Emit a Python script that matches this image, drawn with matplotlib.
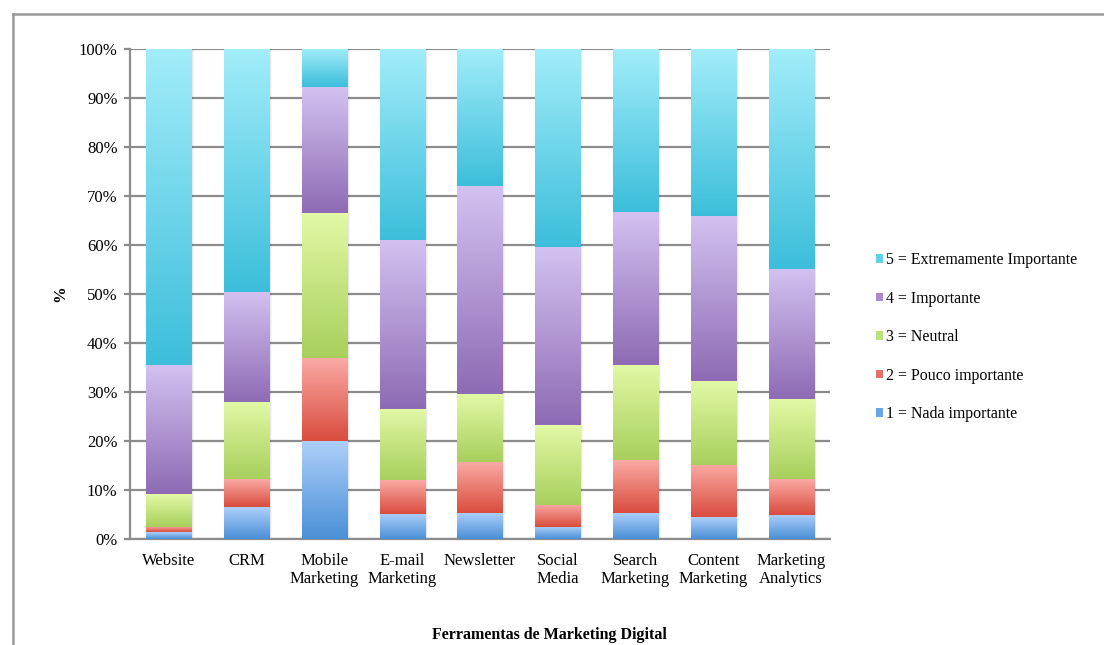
import numpy as np
import matplotlib
matplotlib.use('Agg')
import matplotlib.pyplot as plt
from matplotlib.patches import Patch, Rectangle
from matplotlib.lines import Line2D
from matplotlib.colors import LinearSegmentedColormap

plt.rcParams['font.family'] = ['Liberation Serif', 'DejaVu Serif']

# data (percent of respondents)
categories = ['Website', 'CRM', 'Mobile\nMarketing', 'E-mail\nMarketing', 'Newsletter',
              'Social\nMedia', 'Search\nMarketing', 'Content\nMarketing', 'Marketing\nAnalytics']
nada = [1.4, 6.5, 20.1, 5.2, 5.4, 2.5, 5.4, 4.4, 4.9]
pouco = [1.1, 5.7, 16.8, 6.8, 10.3, 4.5, 10.8, 10.7, 7.3]
neutral = [6.6, 15.8, 29.6, 14.5, 13.8, 16.2, 19.4, 17.1, 16.3]
importante = [26.5, 22.5, 25.7, 34.5, 42.5, 36.3, 31.1, 33.8, 26.7]
extremo = [64.4, 49.5, 7.8, 39.0, 28.0, 40.5, 33.3, 34.0, 44.8]

series = [nada, pouco, neutral, importante, extremo]
labels = ['1 = Nada importante', '2 = Pouco importante', '3 = Neutral',
          '4 = Importante', '5 = Extremamente Importante']
# (top colour, bottom colour) for each gradient
grads = [('#aed0fa', '#4a8fd6'),
         ('#faaaa4', '#d94c3e'),
         ('#e2f9a6', '#a8cf5c'),
         ('#d3c2f1', '#8e6bb4'),
         ('#a2edf9', '#3cbedb')]
legend_cols = ['#6aa6e6', '#e87068', '#bfe07c', '#a98bd0', '#62d0e8']

fig = plt.figure(figsize=(11.04, 6.45), dpi=100)
ax = fig.add_axes([130 / 1104, 1 - 539 / 645, 700 / 1104, 490 / 645])

x = np.arange(len(categories))
width = 0.58
bottom = np.zeros(len(categories))
grad = np.linspace(0, 1, 256).reshape(-1, 1)

for vals, (ctop, cbot) in zip(series, grads):
    cmap = LinearSegmentedColormap.from_list('g', [cbot, ctop])
    bars = ax.bar(x, vals, width, bottom=bottom, color='none', edgecolor='none', zorder=3)
    for b in bars:
        x0, y0 = b.get_x(), b.get_y()
        w, h = b.get_width(), b.get_height()
        # soft shadow on the right side
        for k, a in enumerate([0.10, 0.06, 0.03]):
            ax.add_patch(Rectangle((x0 + w, y0), 0.012 * (k + 1), h,
                                   color='black', alpha=a, lw=0, zorder=2))
        im = ax.imshow(grad, cmap=cmap, origin='lower', aspect='auto',
                       extent=(x0, x0 + w, y0, y0 + h), zorder=3)
        im.set_clip_path(b)
    bottom += np.array(vals)

ax.set_xlim(-0.5, len(categories) - 0.5)
ax.set_ylim(0, 100)
ax.set_yticks(np.arange(0, 101, 10))
ax.set_yticklabels([f'{v}%' for v in range(0, 101, 10)])
ax.set_xticks(x)
ax.set_xticklabels(categories, linespacing=1.2)
ax.yaxis.grid(True, color='#8c8c8c', lw=1.6, zorder=1)
ax.set_axisbelow(True)
for s in ['top', 'right']:
    ax.spines[s].set_visible(False)
for s in ['left', 'bottom']:
    ax.spines[s].set_color('#8c8c8c')
    ax.spines[s].set_linewidth(1.6)
ax.tick_params(axis='y', length=4, width=1.6, color='#8c8c8c', labelsize=12, pad=5)
ax.tick_params(axis='x', length=0, labelsize=12, pad=10)

ax.set_ylabel('%', fontsize=12, fontweight='bold')
ax.yaxis.set_label_coords(-(130 - 68) / 700, 0.5)

fig.text(549 / 1104, 1 - 635 / 645, 'Ferramentas de Marketing Digital',
         fontsize=11.5, fontweight='bold', ha='center', va='center')

handles = [Patch(facecolor=c, edgecolor='none') for c in legend_cols]
fig.legend(handles[::-1], labels[::-1], loc='upper left',
           bbox_to_anchor=(870 / 1104, 1 - 246 / 645), frameon=False,
           fontsize=11.4, handlelength=0.45, handleheight=0.45, handletextpad=0.15,
           labelspacing=1.42, borderaxespad=0)

# outer frame
fig.add_artist(Line2D([13 / 1104, 13 / 1104], [0, 1 - 14 / 645], color='#999999', lw=1.8,
                      transform=fig.transFigure))
fig.add_artist(Line2D([13 / 1104, 1], [1 - 14 / 645, 1 - 14 / 645], color='#999999', lw=1.8,
                      transform=fig.transFigure))

fig.savefig('out.png', dpi=100)
